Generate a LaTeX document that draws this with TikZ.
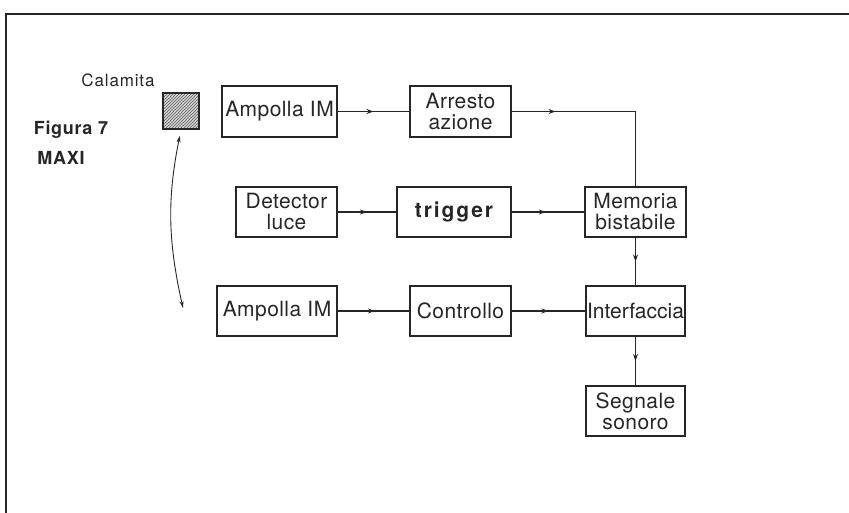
\documentclass[tikz,border=0pt]{standalone}
\usepackage{fontspec}
\setmainfont{TeX Gyre Heros}
\usetikzlibrary{patterns,decorations.markings,arrows.meta}
\begin{document}
\begin{tikzpicture}[x=1pt,y=-1pt,
  ink/.style={draw=black!85},
  blk/.style={ink, line width=1.8pt, inner sep=0pt, align=center, text=black!85,
              font=\fontsize{21}{21}\selectfont\addfontfeature{LetterSpace=2}},
  conn/.style={ink, line width=1.1pt, postaction={decorate},
     decoration={markings, mark=at position #1 with {\arrow{Stealth[length=7pt,width=5pt]}}}},
  conn/.default=0.5,
  lbl/.style={inner sep=0pt, text=black!85},
]
\useasboundingbox (0,0) rectangle (849,513);
% frame
\draw[ink, line width=2.5pt] (6,513) -- (6,14) -- (849,14);

% labels
\node[lbl, font=\fontsize{17}{18}\selectfont\addfontfeature{LetterSpace=5}] (cal) at (118,80) {Calamita};
\node[lbl, font=\bfseries\fontsize{18}{18}\selectfont\addfontfeature{LetterSpace=4}] (fig) at (71,130) {Figura 7};
\node[lbl, font=\bfseries\fontsize{18}{18}\selectfont\addfontfeature{LetterSpace=4}] (maxi) at (61,158) {MAXI};

% magnet
\node[ink, line width=1.6pt, minimum width=36pt, minimum height=36pt, inner sep=0pt,
      preaction={fill=gray!35}, pattern=north east lines, pattern color=gray!75!black] (mag) at (181,111) {};
\coordinate (swing) at (183,308);
\draw[ink, line width=0.9pt, {Stealth[length=7pt,width=4pt]}-{Stealth[length=7pt,width=4pt]}, shorten <=6pt]
  (mag.south) to[bend right=12] (swing);

% blocks
\node[blk, minimum width=115pt, minimum height=51pt] (amp1) at (279.5,111.5) {Ampolla IM};
\node[blk, minimum width=101pt, minimum height=51pt] (arr) at (460.5,111.5) {Arresto\\azione};
\node[blk, minimum width=101pt, minimum height=50pt] (det) at (286.5,212) {Detector\\luce};
\node[blk, minimum width=114pt, minimum height=50pt,
      font=\bfseries\fontsize{21}{22}\selectfont\addfontfeature{LetterSpace=9}] (trig) at (454,212) {trigger};
\node[blk, minimum width=101pt, minimum height=50pt] (mem) at (635.5,212) {Memoria\\bistabile};
\node[blk, minimum width=120pt, minimum height=50pt] (amp2) at (277,311) {Ampolla IM};
\node[blk, minimum width=101pt, minimum height=50pt] (ctrl) at (460.5,311) {Controllo};
\node[blk, minimum width=99pt, minimum height=50pt, font=\fontsize{21}{21}\selectfont] (intf) at (635.5,311) {Interfaccia};
\node[blk, minimum width=99pt, minimum height=50pt] (seg) at (635.5,411) {Segnale\\sonoro};

% connectors
\draw[conn] (amp1.east) -- (arr.west);
\draw[conn=0.22] (arr.east) -| (mem.north);
\draw[conn] (det.east) -- (trig.west);
\draw[conn=0.47] (trig.east) -- (mem.west);
\draw[conn] (mem.south) -- (intf.north);
\draw[conn=0.52] (amp2.east) -- (ctrl.west);
\draw[conn=0.5] (ctrl.east) -- (intf.west);
\draw[conn] (intf.south) -- (seg.north);
\end{tikzpicture}
\end{document}
